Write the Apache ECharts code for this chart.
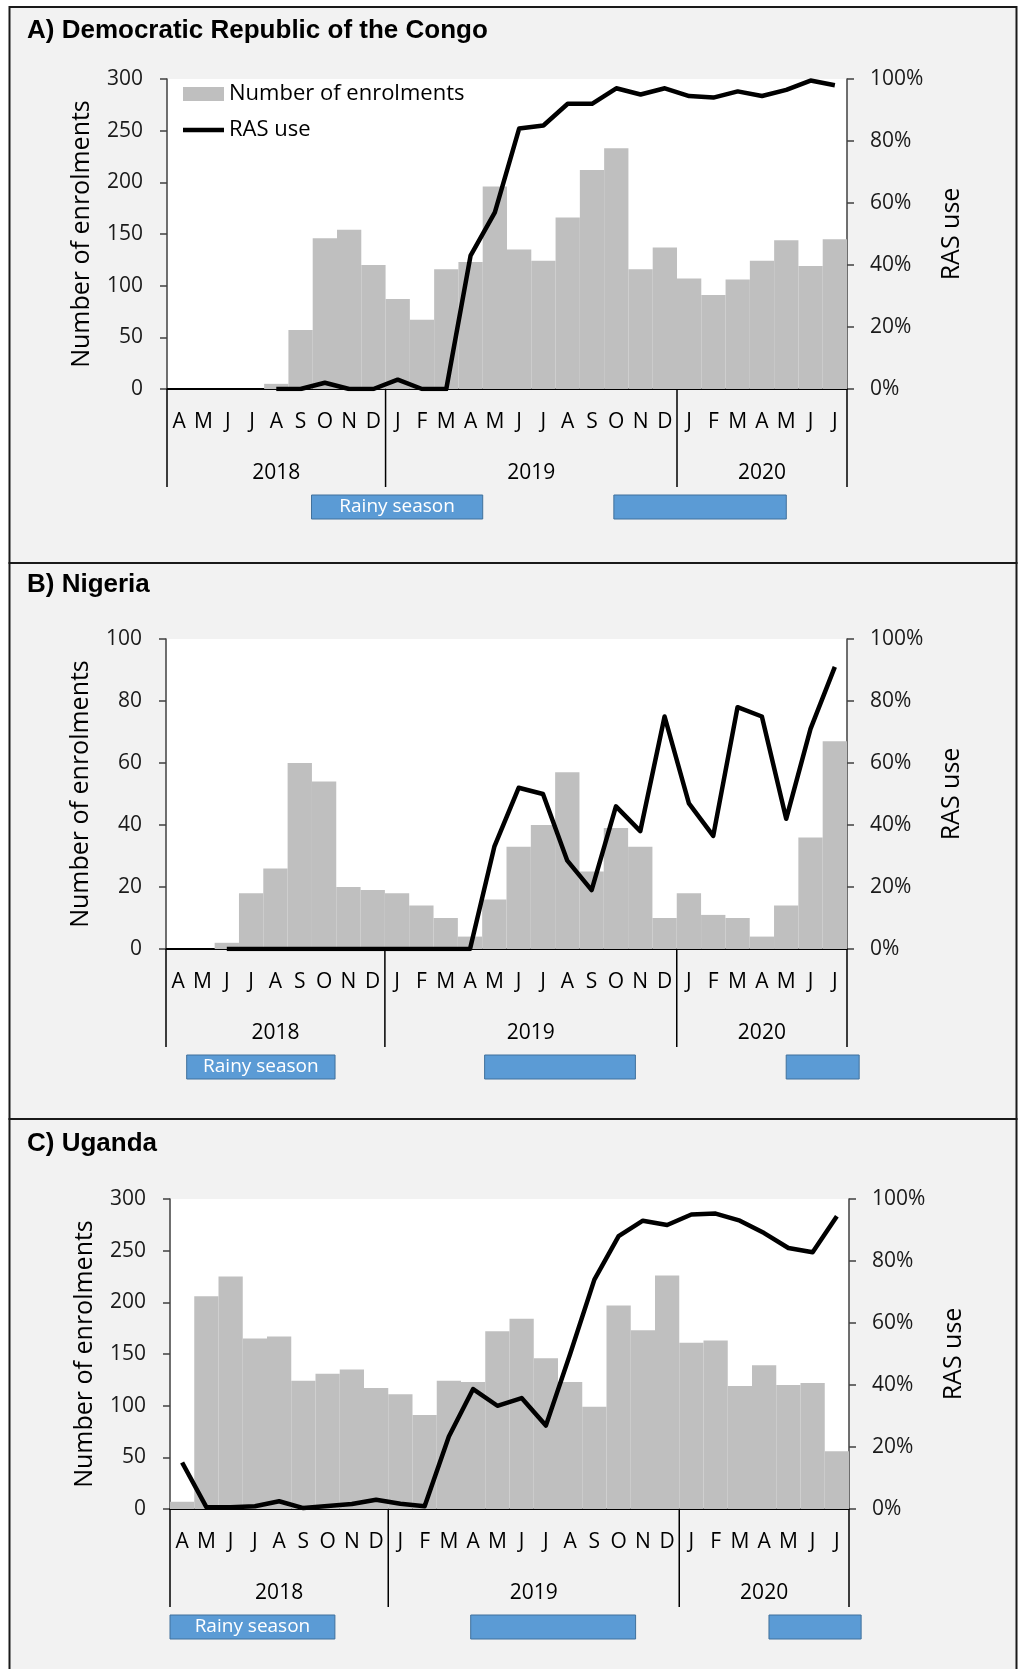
<!DOCTYPE html>
<html>
<head>
<meta charset="utf-8">
<script src="https://cdn.jsdelivr.net/npm/echarts@6/dist/echarts.min.js"></script>
<style>html,body{margin:0;padding:0;background:#fff;}#chart{width:1034px;height:1669px;}</style>
</head>
<body>
<div id="chart"></div>
<script>
// ---------- DATA ----------
const months = ['A','M','J','J','A','S','O','N','D','J','F','M','A','M','J','J','A','S','O','N','D','J','F','M','A','M','J','J'];
const years = ['2018','2019','2020'];
const monthsPerYear = [9, 12, 7];

const panelTitles = ['A) Democratic Republic of the Congo', 'B) Nigeria', 'C) Uganda'];

const drcEnrolments = [0,0,0,0,5,57,146,154,120,87,67,116,123,196,135,124,166,212,233,116,137,107,91,106,124,144,119,145];
const drcRasUse = [null,null,null,null,0,0,2,0,0,3,0,0,43,57,84,85,92,92,97,95,97,94.5,94,96,94.5,96.5,99.5,98];
const drcRainy = [[5.95,13.0],[18.4,25.5]];   // in months from April 2018

const ngaEnrolments = [0,0,2,18,26,60,54,20,19,18,14,10,4,16,33,40,57,25,39,33,10,18,11,10,4,14,36,67];
const ngaRasUse = [null,null,0,0,0,0,0,0,0,0,0,0,0,33,52,50,28.5,19,46,38,75,47,36.5,78,75,42,71,91];
const ngaRainy = [[0.85,6.95],[13.1,19.3],[25.5,28.5]];

const ugaEnrolments = [7,206,225,165,167,124,131,135,117,111,91,124,123,172,184,146,123,99,197,173,226,161,163,119,139,120,122,56];
const ugaRasUse = [15,0.6,0.6,0.9,2.5,0.3,1,1.6,3,1.7,0.9,23.4,38.7,33.3,35.8,26.9,50,74,88,93,91.6,95,95.3,93,89,84.2,82.8,94.4];
const ugaRainy = [[0,6.8],[12.4,19.2],[24.7,28.5]];

const leftAxisMax = [300, 100, 300];
const leftAxisInterval = [50, 20, 50];

// ---------- BUILD ----------
const FONT = '"Open Sans", sans-serif';
const panels = [
  {enrol: drcEnrolments, ras: drcRasUse, rainy: drcRainy},
  {enrol: ngaEnrolments, ras: ngaRasUse, rainy: ngaRainy},
  {enrol: ugaEnrolments, ras: ugaRasUse, rainy: ugaRainy}
];
const gridBoxes = [
  {left: 167, top: 79, width: 680, height: 310},
  {left: 166, top: 639, width: 681, height: 310},
  {left: 170, top: 1199, width: 679, height: 310}
];
const panelRects = [
  {y: 7, h: 556}, {y: 563, h: 556}, {y: 1119, h: 570}
];
const titleTops = [18, 572, 1131];

// year boundaries and centres in month units
const yearBounds = [0];
monthsPerYear.forEach(n => yearBounds.push(yearBounds[yearBounds.length - 1] + n));
const yearCentres = years.map((y, i) => (yearBounds[i] + yearBounds[i + 1]) / 2);

const grid = [], xAxis = [], yAxis = [], series = [], title = [], graphic = [];

panelRects.forEach(r => {
  graphic.push({type: 'rect', z: -100, silent: true,
    shape: {x: 9.5, y: r.y, width: 1007, height: r.h},
    style: {fill: '#f2f2f2', stroke: '#1a1a1a', lineWidth: 2}});
});

panels.forEach((p, g) => {
  grid.push(Object.assign({show: true, backgroundColor: '#ffffff', borderWidth: 0, containLabel: false}, gridBoxes[g]));
  title.push({text: panelTitles[g], left: 27, top: titleTops[g], padding: 0,
    textStyle: {fontFamily: '"Liberation Sans", Arial, sans-serif', fontWeight: 'bold', fontSize: 26, color: '#000'}});

  xAxis.push({type: 'category', gridIndex: g, data: months, position: 'bottom',
    axisLine: {show: true, lineStyle: {color: '#000', width: 2}},
    axisTick: {show: false},
    axisLabel: {interval: 0, margin: 23, fontFamily: FONT, fontSize: 21, color: '#000'},
    splitLine: {show: false}});
  xAxis.push({type: 'value', gridIndex: g, min: 0, max: months.length, show: false});

  yAxis.push({type: 'value', gridIndex: g, position: 'left', min: 0, max: leftAxisMax[g], interval: leftAxisInterval[g],
    name: 'Number of enrolments', nameLocation: 'middle', nameGap: 73, nameRotate: 90,
    nameTextStyle: {fontFamily: FONT, fontSize: 25, color: '#000'},
    axisLine: {show: true, lineStyle: {color: '#404040', width: 1.5}},
    axisTick: {show: true, length: 7, inside: false, lineStyle: {color: '#404040', width: 1.5}},
    axisLabel: {margin: 24, fontFamily: FONT, fontSize: 21, color: '#1a1a1a'},
    splitLine: {show: false}});
  yAxis.push({type: 'value', gridIndex: g, position: 'right', min: 0, max: 100, interval: 20,
    name: 'RAS use', nameLocation: 'middle', nameGap: 92, nameRotate: 90,
    nameTextStyle: {fontFamily: FONT, fontSize: 25, color: '#000'},
    axisLine: {show: true, lineStyle: {color: '#404040', width: 1.5}},
    axisTick: {show: true, length: 7, inside: false, lineStyle: {color: '#404040', width: 1.5}},
    axisLabel: {margin: 23, formatter: '{value}%', fontFamily: FONT, fontSize: 21, color: '#1a1a1a'},
    splitLine: {show: false}});

  series.push({type: 'bar', name: 'Number of enrolments', xAxisIndex: 2 * g, yAxisIndex: 2 * g,
    data: p.enrol, barCategoryGap: '0%', barGap: '0%', itemStyle: {color: '#bfbfbf'}, z: 2, silent: true});
  series.push({type: 'line', name: 'RAS use', xAxisIndex: 2 * g, yAxisIndex: 2 * g + 1,
    data: p.ras, symbol: 'none', showSymbol: false, connectNulls: false,
    lineStyle: {color: '#000', width: 4.5, join: 'round'}, itemStyle: {color: '#000'}, z: 3, silent: true});

  // year separators
  series.push({type: 'custom', xAxisIndex: 2 * g + 1, yAxisIndex: 2 * g, silent: true, clip: false, z: 4,
    data: yearBounds.map(b => [b, 0]),
    renderItem: (params, api) => {
      const a = api.coord([api.value(0), 0]);
      return {type: 'line', shape: {x1: a[0], y1: a[1], x2: a[0], y2: a[1] + 98},
        style: {stroke: '#000', lineWidth: 1.5}};
    }});
  // year labels
  series.push({type: 'custom', xAxisIndex: 2 * g + 1, yAxisIndex: 2 * g, silent: true, clip: false, z: 4,
    data: yearCentres.map(c => [c, 0]),
    renderItem: (params, api) => {
      const a = api.coord([api.value(0), 0]);
      return {type: 'text', style: {text: years[params.dataIndex], x: a[0], y: a[1] + 84,
        align: 'center', verticalAlign: 'middle', fill: '#000', fontFamily: FONT, fontSize: 21}};
    }});
  // rainy season boxes
  series.push({type: 'custom', xAxisIndex: 2 * g + 1, yAxisIndex: 2 * g, silent: true, clip: false, z: 4,
    data: p.rainy.map(r => [r[0], r[1], 0]),
    encode: {x: [0, 1], y: 2},
    renderItem: (params, api) => {
      const a = api.coord([api.value(0), 0]);
      const b = api.coord([api.value(1), 0]);
      const children = [{type: 'rect', shape: {x: a[0], y: a[1] + 106, width: b[0] - a[0], height: 24},
        style: {fill: '#5b9bd5', stroke: '#41719c', lineWidth: 1}}];
      if (params.dataIndex === 0) {
        children.push({type: 'text', style: {text: 'Rainy season', x: (a[0] + b[0]) / 2, y: a[1] + 118,
          align: 'center', verticalAlign: 'middle', fill: '#fff', fontFamily: FONT, fontSize: 19}});
      }
      return {type: 'group', children};
    }});
});

const chart = echarts.init(document.getElementById('chart'), null, {renderer: 'canvas'});
chart.setOption({
  backgroundColor: '#ffffff',
  animation: false,
  title, grid, xAxis, yAxis, series, graphic,
  legend: {
    left: 183, top: 83, orient: 'vertical', itemWidth: 41, itemHeight: 14, itemGap: 14,
    selectedMode: false, padding: 0,
    textStyle: {fontFamily: FONT, fontSize: 22, color: '#000'},
    data: [
      {name: 'Number of enrolments', icon: 'rect'},
      {name: 'RAS use', icon: 'path://M0,0H41V4.5H0Z', itemStyle: {color: '#000'}}
    ]
  }
});
</script>
</body>
</html>
